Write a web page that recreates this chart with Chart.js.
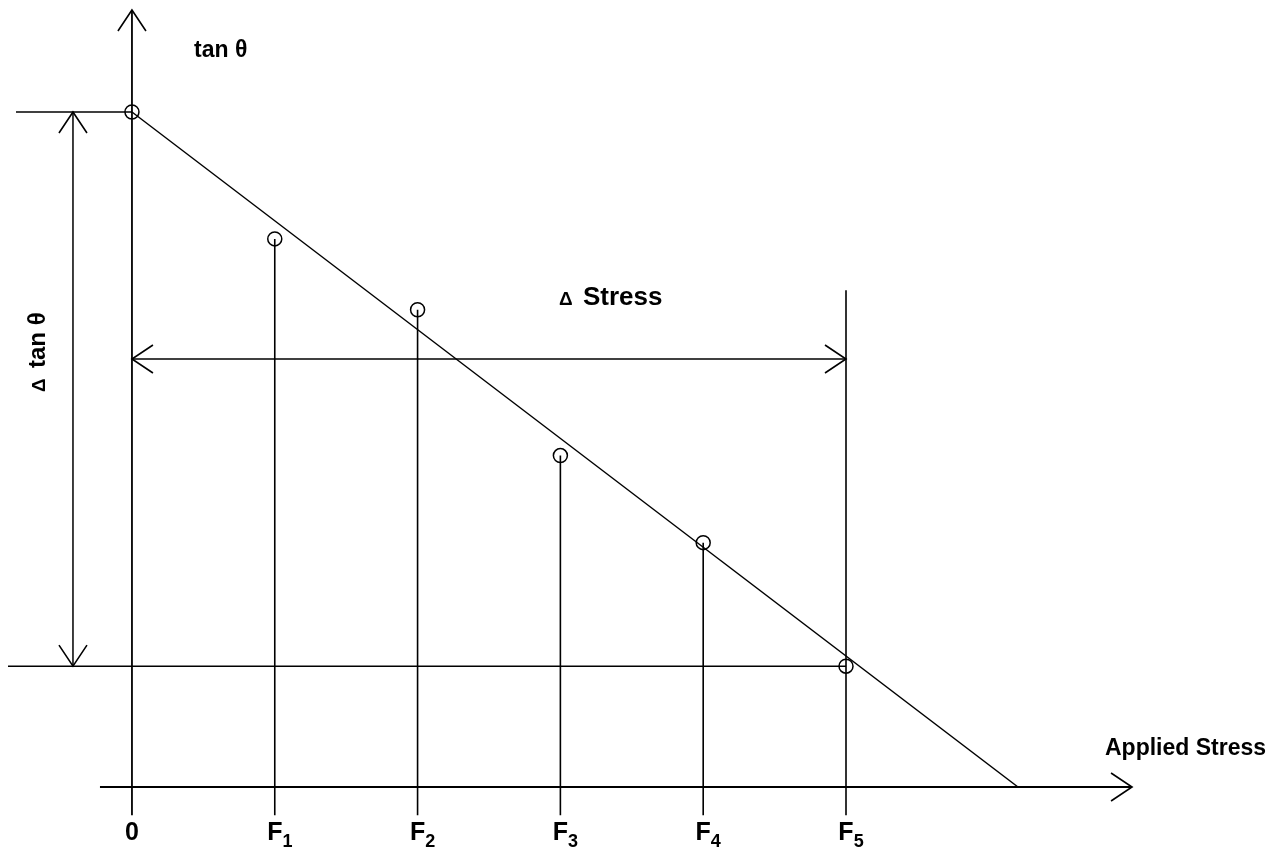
<!DOCTYPE html>
<html>
<head>
<meta charset="utf-8">
<script src="https://cdn.jsdelivr.net/npm/chart.js@4.4.1/dist/chart.umd.min.js"></script>
<style>
  html, body { margin: 0; padding: 0; background: #fff; }
  #wrap { width: 1276px; height: 848px; position: relative; }
</style>
</head>
<body>
<div id="wrap"><canvas id="chart"></canvas></div>
<script>
// Measurements: applied stress steps and the measured tan(theta)
const stressPos = [0, 1, 2, 3, 4, 5];
const tickLabels = ['0', 'F1', 'F2', 'F3', 'F4', 'F5'];
const tanTheta = [1.0, 0.812, 0.707, 0.491, 0.362, 0.179];

// fitted straight line: start at first point, meets the stress axis here
const fitStart = [0, 1.0];
const fitEnd = [6.204, 0];

// construction lines of the diagram (data units)
const stemBottom = -0.042;
const xAxisRange = [-0.224, 7.003];
const yAxisRange = [-0.042, 1.151];
const deltaTanX = -0.413;
const topRefStart = -0.812;
const bottomRefStart = -0.868;
const deltaStressY = 0.634;
const f5LineTop = 0.736;

const FONT = '"Liberation Sans", Arial, Helvetica, sans-serif';
const INK = '#000';

function seg(x1, y1, x2, y2, width) {
    return {
        data: [{ x: x1, y: y1 }, { x: x2, y: y2 }],
        showLine: true,
        borderColor: INK,
        borderWidth: width || 1.5,
        pointRadius: 0,
        clip: false,
        order: 0
    };
}

const datasets = [];

// fitted line
datasets.push(seg(fitStart[0], fitStart[1], fitEnd[0], fitEnd[1], 1.5));

// axes
datasets.push(seg(xAxisRange[0], 0, xAxisRange[1], 0, 1.8));
datasets.push(seg(0, yAxisRange[0], 0, yAxisRange[1], 1.8));

// reference levels for delta tan theta
datasets.push(seg(topRefStart, tanTheta[0], 0, tanTheta[0], 1.5));
datasets.push(seg(bottomRefStart, tanTheta[5], stressPos[5], tanTheta[5], 1.5));
datasets.push(seg(deltaTanX, tanTheta[0], deltaTanX, tanTheta[5], 1.5));

// delta stress arrow shaft + F5 extension line
datasets.push(seg(stressPos[0], deltaStressY, stressPos[5], deltaStressY, 1.5));
datasets.push(seg(stressPos[5], f5LineTop, stressPos[5], stemBottom, 1.6));

// stems from each point down through the axis
stressPos.slice(1, 5).forEach((x, i) => {
    const s = seg(x, tanTheta[i + 1], x, stemBottom, 1.6);
    s.order = 2;
    datasets.push(s);
});

// measured points (open circles)
datasets.push({
    data: stressPos.map((x, i) => ({ x: x, y: tanTheta[i] })),
    showLine: false,
    pointStyle: 'circle',
    pointRadius: 7,
    pointBorderWidth: 1.5,
    pointBorderColor: INK,
    pointBackgroundColor: 'rgba(255,255,255,0)',
    clip: false,
    order: 1
});

function arrowHead(ctx, x, y, dx, dy) {
    const len = 21, half = 14;
    const px = -dy, py = dx;
    ctx.beginPath();
    ctx.moveTo(x - dx * len + px * half, y - dy * len + py * half);
    ctx.lineTo(x, y);
    ctx.lineTo(x - dx * len - px * half, y - dy * len - py * half);
    ctx.stroke();
}

const annotations = {
    id: 'annotations',
    afterDatasetsDraw(chart) {
        const ctx = chart.ctx;
        const xs = chart.scales.x, ys = chart.scales.y;
        const X = v => xs.getPixelForValue(v);
        const Y = v => ys.getPixelForValue(v);
        ctx.save();
        ctx.strokeStyle = INK;
        ctx.fillStyle = INK;
        ctx.lineWidth = 1.6;

        arrowHead(ctx, X(0), Y(yAxisRange[1]), 0, -1);
        arrowHead(ctx, X(xAxisRange[1]), Y(0), 1, 0);
        arrowHead(ctx, X(deltaTanX), Y(tanTheta[0]), 0, -1);
        arrowHead(ctx, X(deltaTanX), Y(tanTheta[5]), 0, 1);
        arrowHead(ctx, X(stressPos[0]), Y(deltaStressY), -1, 0);
        arrowHead(ctx, X(stressPos[5]), Y(deltaStressY), 1, 0);

        // tick labels with subscripts
        ctx.textBaseline = 'alphabetic';
        tickLabels.forEach((lab, i) => {
            const cx = X(stressPos[i]);
            const main = lab.charAt(0), sub = lab.slice(1);
            ctx.font = 'bold 25px ' + FONT;
            ctx.textAlign = 'center';
            ctx.fillText(main, cx, 840);
            if (sub) {
                const w = ctx.measureText(main).width;
                ctx.font = 'bold 18px ' + FONT;
                ctx.textAlign = 'left';
                ctx.fillText(sub, cx + w / 2, 847);
            }
        });

        // axis titles
        ctx.textAlign = 'left';
        ctx.font = 'bold 23px ' + FONT;
        ctx.fillText('tan θ', 194, 57);
        ctx.fillText('Applied Stress', 1105, 755);

        ctx.font = 'bold 19px ' + FONT;
        ctx.fillText('Δ', 559, 305);
        ctx.font = 'bold 26px ' + FONT;
        ctx.fillText('Stress', 583, 305);

        ctx.save();
        ctx.translate(45, 392);
        ctx.rotate(-Math.PI / 2);
        ctx.font = 'bold 19px ' + FONT;
        ctx.fillText('Δ', 0, 0);
        ctx.font = 'bold 24px ' + FONT;
        ctx.fillText('tan θ', 24, 0);
        ctx.restore();

        ctx.restore();
    }
};

new Chart(document.getElementById('chart'), {
    type: 'scatter',
    data: { datasets: datasets },
    options: {
        responsive: true,
        maintainAspectRatio: false,
        animation: false,
        layout: { padding: 0, autoPadding: false },
        plugins: {
            legend: { display: false },
            tooltip: { enabled: false }
        },
        scales: {
            x: { type: 'linear', display: false, min: -0.924, max: 8.011 },
            y: { type: 'linear', display: false, min: -0.0904, max: 1.1659 }
        }
    },
    plugins: [annotations]
});
</script>
</body>
</html>
